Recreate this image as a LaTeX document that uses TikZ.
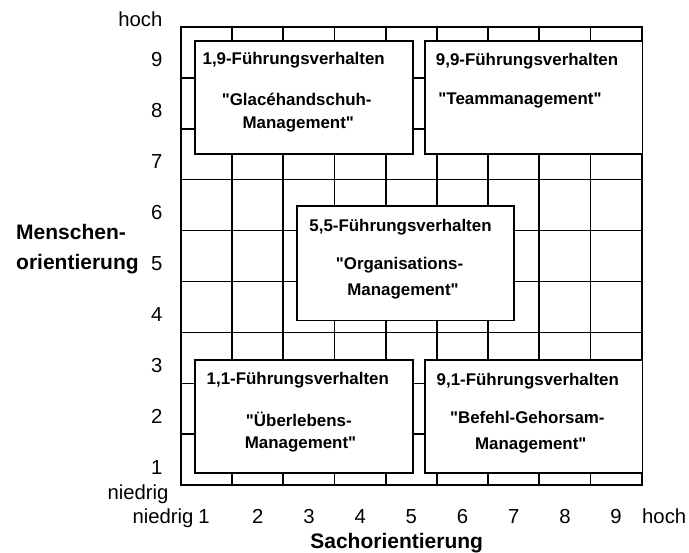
\documentclass[tikz,border=0pt]{standalone}
\usepackage{fontspec}
\setmainfont{Liberation Sans}
\newcommand{\dq}{\textquotedbl}
\begin{document}
\begin{tikzpicture}[x=1bp,y=-1bp,
  gridline/.style={line width=1.8bp, draw=black},
  fieldbox/.style={draw=black, line width=1.8bp, fill=white, inner sep=0pt, anchor=north west},
  boxtext/.style={font=\fontsize{16.9bp}{20bp}\selectfont\bfseries, inner sep=0pt, anchor=base},
  axisnum/.style={font=\fontsize{20.3bp}{24bp}\selectfont, inner sep=0pt, anchor=base},
  axistitle/.style={font=\fontsize{21bp}{25bp}\selectfont\bfseries, inner sep=0pt, anchor=base}]

\useasboundingbox (0,0) rectangle (689,553);

% 9 x 9 grid
\foreach \i in {1,...,8} {
  \draw[gridline] ({181+51.19*\i},26.7) -- ({181+51.19*\i},485.3);
  \draw[gridline] (181,{26.7+50.96*\i}) -- (641.7,{26.7+50.96*\i});
}
\draw[gridline] (181,26.7) rectangle (641.7,485.3);

% style fields
\node[fieldbox, minimum width=217.8bp, minimum height=113.5bp] (tl) at (194,40) {};
\node[fieldbox, minimum width=217.5bp, minimum height=113.5bp] (tr) at (424,40) {};
\node[fieldbox, minimum width=217.3bp, minimum height=114.5bp] (cc) at (296,205) {};
\node[fieldbox, minimum width=217.8bp, minimum height=113.3bp] (bl) at (194,358.7) {};
\node[fieldbox, minimum width=217.5bp, minimum height=113.3bp] (br) at (424,358.7) {};

% field texts
\node[boxtext] (tl1) at (293.7,65) {1,9-Führungsverhalten};
\node[boxtext] (tl2) at (296.7,106) {\dq Glacéhandschuh-};
\node[boxtext] (tl3) at (298.3,128.3) {Management\dq};

\node[boxtext] (tr1) at (527,65.5) {9,9-Führungsverhalten};
\node[boxtext] (tr2) at (520,104.5) {\dq Teammanagement\dq};

\node[boxtext] (cc1) at (400.5,231.5) {5,5-Führungsverhalten};
\node[boxtext] (cc2) at (399.5,270) {\dq Organisations-};
\node[boxtext] (cc3) at (403,295) {Management\dq};

\node[boxtext] (bl1) at (297.8,384.7) {1,1-Führungsverhalten};
\node[boxtext] (bl2) at (298.8,426) {\dq Überlebens-};
\node[boxtext] (bl3) at (300.5,448.5) {Management\dq};

\node[boxtext] (br1) at (527.8,385) {9,1-Führungsverhalten};
\node[boxtext] (br2) at (527.3,423.5) {\dq Befehl-Gehorsam-};
\node[boxtext] (br3) at (530.8,449.3) {Management\dq};

% vertical axis
\node[axisnum, anchor=base east] (yhoch) at (162.5,26.7) {hoch};
\foreach \i in {1,...,9} {
  \node[axisnum, anchor=base east] (y\i) at (162.5,{66.7+(9-\i)*50.96}) {\i};
}
\node[axisnum] (yniedrig) at (138,499.3) {niedrig};
\node[axistitle, anchor=base west] (ytitle1) at (16,239.3) {Menschen-};
\node[axistitle, anchor=base west] (ytitle2) at (16,270) {orientierung};

% horizontal axis
\node[axisnum] (xniedrig) at (163,523.8) {niedrig};
\node[axisnum] (x1) at (204,523.8) {1};
\foreach \i in {2,...,9} {
  \node[axisnum] (x\i) at ({181+51.19*(\i-0.5)},523.8) {\i};
}
\node[axisnum] (xhoch) at (664.2,523.8) {hoch};
\node[axistitle] (xtitle) at (396.7,548.3) {Sachorientierung};

\end{tikzpicture}
\end{document}
